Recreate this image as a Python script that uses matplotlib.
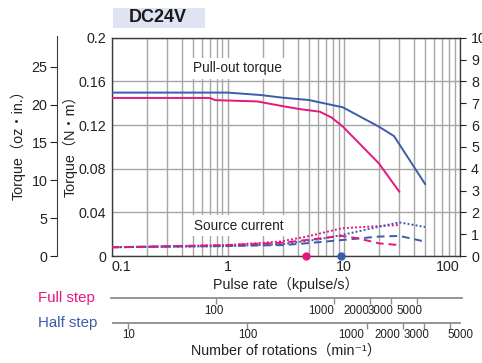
import matplotlib
matplotlib.use("Agg")
import matplotlib.pyplot as plt
import matplotlib.transforms as mtransforms
from matplotlib.ticker import FixedLocator, NullLocator, FixedFormatter, NullFormatter

FAM = ['Liberation Sans', 'DejaVu Sans', 'Noto Sans CJK JP']
plt.rcParams['font.family'] = FAM

# ---------------- data ----------------
# Pull-out torque (N·m) vs pulse rate (kpulse/s)
f_full_torque = [0.1, 0.7, 0.78, 1.8, 3.0, 4.1, 6.2, 7.8, 9.8, 20, 30]
torque_full = [0.1448, 0.1448, 0.1428, 0.1416, 0.1372, 0.1347, 0.1322, 0.1270, 0.1185, 0.0849, 0.0589]
f_half_torque = [0.1, 1.0, 1.9, 3.0, 5.0, 9.8, 20, 27, 50]
torque_half = [0.1497, 0.1497, 0.1475, 0.1450, 0.1429, 0.1362, 0.1185, 0.1099, 0.066]

# Source current (right axis) vs pulse rate
f_full_cur_dot = [0.1, 1.0, 2.8, 4.7, 9.6, 20, 30]
cur_full_dot = [0.40, 0.50, 0.66, 0.88, 1.27, 1.37, 1.42]
f_full_cur_dash = [0.1, 1.0, 3.0, 4.7, 9.5, 13.2, 20, 30]
cur_full_dash = [0.40, 0.50, 0.61, 0.73, 0.92, 0.81, 0.58, 0.50]
f_half_cur_dot = [0.1, 1.0, 3.0, 6.0, 9.6, 20, 30, 50]
cur_half_dot = [0.40, 0.45, 0.55, 0.76, 0.96, 1.34, 1.54, 1.33]
f_half_cur_dash = [0.1, 1.0, 3.0, 4.7, 9.6, 20, 30, 50]
cur_half_dash = [0.40, 0.46, 0.50, 0.58, 0.73, 0.89, 0.92, 0.66]

# Max starting pulse rate markers (kpulse/s)
fs_full = 4.7
fs_half = 9.5

x_ticks = [0.1, 1, 10, 100]
x_ticklabels = ['0.1', '1', '10', '100']
y_ticks = [0, 0.04, 0.08, 0.12, 0.16, 0.2]
y_ticklabels = ['0', '0.04', '0.08', '0.12', '0.16', '0.2']
oz_ticks = [0, 5, 10, 15, 20, 25]
cur_ticks = list(range(0, 11))
rpm_full_ticks = [100, 1000, 2000, 3000, 5000]
rpm_half_ticks = [10, 100, 1000, 2000, 3000, 5000]

MAG = '#e5177d'
BLU = '#3a5caa'
GRID = '#a6a6a6'
SPINE = '#3a3a3a'
TXT = '#222222'
FS = 9.8

W, H = 482, 363
def fx(px):
    return px / W
def fy(py):
    return 1 - py / H

fig = plt.figure(figsize=(W / 100, H / 100), dpi=100)

L, R, T, B = 111.7, 460.0, 37.7, 256.0
ax = fig.add_axes([fx(L), fy(B), fx(R) - fx(L), fy(T) - fy(B)])
ax.set_xscale('log')
ax.set_xlim(0.1, 100)
ax.set_ylim(0, 0.2)
ax.xaxis.set_major_locator(FixedLocator(x_ticks))
ax.xaxis.set_major_formatter(FixedFormatter(x_ticklabels))
ax.xaxis.set_minor_formatter(NullFormatter())
ax.yaxis.set_major_locator(FixedLocator(y_ticks))
ax.yaxis.set_major_formatter(FixedFormatter(y_ticklabels))
ax.grid(True, which='both', axis='x', color=GRID, lw=1.0)
ax.grid(True, which='major', axis='y', color=GRID, lw=1.0)
ax.tick_params(which='both', length=0, labelsize=FS + 0.5, pad=4, colors=TXT)
ax.tick_params(axis='x', pad=3)
for s in ax.spines.values():
    s.set_color(SPINE)
    s.set_linewidth(1.0)
lbls = ax.get_xticklabels()
lbls[0].set_ha('left')
lbls[-1].set_ha('right')

ax.plot(f_full_torque, torque_full, color=MAG, lw=1.4, zorder=4)
ax.plot(f_half_torque, torque_half, color=BLU, lw=1.4, zorder=4)

ax.text(0.234, 0.860, 'Pull-out torque', transform=ax.transAxes, fontsize=FS,
        ha='left', va='center', color=TXT,
        bbox=dict(facecolor='white', edgecolor='none', pad=2.5), zorder=3)
ax.text(0.236, 0.139, 'Source current', transform=ax.transAxes, fontsize=FS,
        ha='left', va='center', color=TXT,
        bbox=dict(facecolor='white', edgecolor='none', pad=2.5), zorder=3)

# current axis
axc = ax.twinx()
axc.set_ylim(0, 10)
axc.yaxis.set_major_locator(FixedLocator(cur_ticks))
axc.tick_params(axis='y', direction='out', length=4, labelsize=FS + 0.5, pad=4, colors=TXT)
for s in axc.spines.values():
    s.set_visible(False)
axc.plot(f_full_cur_dot, cur_full_dot, color=MAG, lw=1.4, ls=(0, (1, 1.1)), zorder=4)
axc.plot(f_half_cur_dot, cur_half_dot, color=BLU, lw=1.4, ls=(0, (1, 1.1)), zorder=4)
axc.plot(f_half_cur_dash, cur_half_dash, color=BLU, lw=1.4, ls=(0, (4, 2.5)), zorder=4)
axc.plot(f_full_cur_dash, cur_full_dash, color=MAG, lw=1.4, ls=(0, (4, 2.5)), zorder=4)

axc.plot([fs_full], [0], 'o', color=MAG, ms=5, clip_on=False, zorder=6)
axc.plot([fs_half], [0], 'o', color=BLU, ms=5, clip_on=False, zorder=6)

# oz-in axis
axo = fig.add_axes([fx(57), fy(B), 0.001, fy(T - 2) - fy(B)])
axo.set_ylim(0, 28.83 * (B - T + 2) / (B - T))
axo.set_xticks([])
for k in ['top', 'right', 'bottom']:
    axo.spines[k].set_visible(False)
axo.spines['left'].set_color(SPINE)
axo.yaxis.set_major_locator(FixedLocator(oz_ticks))
axo.tick_params(axis='y', direction='out', length=5, labelsize=FS + 0.5, pad=2, colors=TXT)
axo.patch.set_visible(False)

# axis labels
fig.text(fx(18), fy(141), 'Torque（oz・in.）', rotation=90, ha='center', va='center', fontsize=FS + 0.5, color=TXT)
fig.text(fx(70), fy(143), 'Torque（N・m）', rotation=90, ha='center', va='center', fontsize=FS + 0.5, color=TXT)
fig.text(fx(286), fy(284), 'Pulse rate（kpulse/s）', ha='center', va='center', fontsize=FS + 0.5, color=TXT)
fig.text(fx(286), fy(351), 'Number of rotations（min⁻¹）', ha='center', va='center', fontsize=FS + 0.5, color=TXT)

# title box
fig.patches.append(plt.Rectangle((fx(113), fy(28)), fx(205) - fx(113), fy(8) - fy(28),
                                 transform=fig.transFigure, facecolor='#dfe3f2', edgecolor='none'))
fig.text(fx(158), fy(18), 'DC24V', ha='center', va='center', fontsize=13, fontweight='bold',
         color='#1a1a1a')

# step labels
fig.text(fx(38), fy(298), 'Full step', ha='left', va='center', fontsize=FS + 1, color=MAG)
fig.text(fx(38), fy(323), 'Half step', ha='left', va='center', fontsize=FS + 1, color=BLU)

def rpm_axis(left, right, ypx, lo, hi, ticks, dxs, label_y):
    a = fig.add_axes([fx(left), fy(ypx), fx(right) - fx(left), 0.0001])
    a.set_xscale('log')
    a.set_xlim(lo, hi)
    a.set_yticks([])
    for k in ['top', 'right', 'left']:
        a.spines[k].set_visible(False)
    a.spines['bottom'].set_color('#8c8c8c')
    a.spines['bottom'].set_linewidth(1.3)
    a.xaxis.set_major_locator(FixedLocator(ticks))
    a.xaxis.set_major_formatter(NullFormatter())
    a.xaxis.set_minor_locator(NullLocator())
    a.tick_params(axis='x', direction='out', length=4, width=1, color='#8c8c8c')
    a.patch.set_visible(False)
    tr = mtransforms.blended_transform_factory(a.transData, fig.transFigure)
    for t, dx in zip(ticks, dxs):
        trx = mtransforms.offset_copy(tr, fig=fig, x=dx, y=0, units='dots')
        a.text(t, fy(label_y), str(t), transform=trx, ha='center', va='center',
               fontsize=8.3, color=TXT, clip_on=False)
    return a

rpm_axis(111.0, 462.3, 298.3, 13.10, 12005, rpm_full_ticks,
         [-2, -13, -14, -10, -8], 311.5)
rpm_axis(112.7, 460.0, 322.7, 7.40, 6064, rpm_half_ticks,
         [0, 0, -16, -15, -7, 10], 335.5)

fig.savefig('out.png', dpi=100)
